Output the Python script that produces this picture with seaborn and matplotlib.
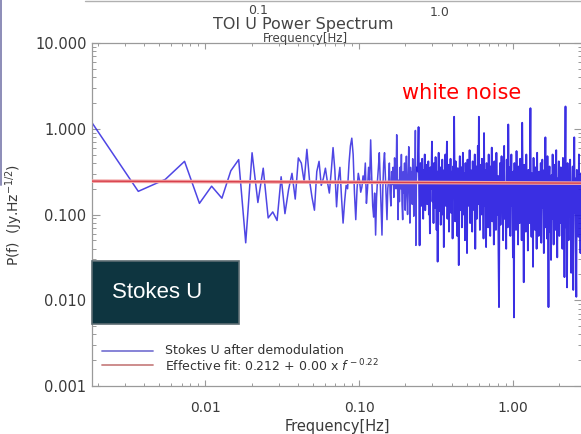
import numpy as np
import pandas as pd
import matplotlib
matplotlib.use("Agg")
import matplotlib.pyplot as plt
from matplotlib.lines import Line2D
from matplotlib.patches import Rectangle
import matplotlib.ticker as mticker
import seaborn as sns

# ---------------- data ----------------
# Low-frequency part: evenly spaced FFT bins, values as 100*log10(P)
freq_step_hz = 0.00183
u_lo_log100 = [
    7, -73, -59, -38, -87, -67, -81, -49, -36, -133,
    -28, -86, -46, -104, -97, -107, -56, -99, -71, -52,
    -82, -34, -40, -62, -24, -60, -80, -95, -50, -38,
    -66, -58, -46, -62, -75, -50, -22, -48, -91, -60,
    -45, -80, -110, -85, -66, -70, -40, -20, -11, -30,
    -75, -106, -70, -52, -60, -74, -68, -55, -62, -40,
    -87, -70, -45, -60, -13, -55, -90, -103, -75, -124,
    -80, -60, -45, -28, -60, -95, -124, -70, -40, -28,
    -55, -85, -106, -70, -60, -40, -75, -90, -50, -65,
    -45, -80, -34, -55, -70, -7, -50, -106, -60, -85,
    -45, -70, -30, -88, -106, -50, -75, -40, -95, -60,
    -32, -78, -100, -55, -21, -65, -110, -45, -72, -50,
    -88, -35, -62, -102, -48, -70, -2, -136, -60, -45,
]
# High-frequency part (dense "white noise" region), values as 100*log10(P)
hi_f_start, hi_f_end = 0.2400, 2.82
u_hi_log100 = [
    -50, -30, 2, -70, -136, -55, -40, -90, -60, -35, -80, -105, -48, -62, -30, -95, -58, -72, -42, -88,
    -55, -38, -100, -66, -122, -45, -70, -52, -15, -85, -60, -110, -40, -75, -92, -33, -68, -118, -50, -155,
    -62, -28, -96, -70, -45, -112, -58, -82, -36, -100, -64, -138, -48, -74, -30, -90, -56, -15, -105, -66,
    -42, -120, -60, -85, -35, -98, -70, -50, -128, -44, -78, 14, -62, -108, -38, -88, -55, -125, -46, -72,
    -159, -58, -32, -95, -68, -45, -115, -60, -28, -100, -75, -52, -130, -40, -82, -62, -145, -36, -90, -55,
    -70, -25, -110, -48, -85, -64, -120, -38, -78, -58, -95, -30, -140, -66, -44, -105, -60, -20, -88, 14,
    -72, -118, -42, -65, -100, -35, -80, -56, -128, -5, -90, -48, -70, -138, -40, -82, -60, -115, -30, -96,
    -52, -125, -44, -75, -22, -108, -66, -50, -135, -38, -90, -62, -118, -28, -80, -100, -55, -145, -208, -70,
    -40, -112, -60, -32, -95, -75, -130, -48, -20, -105, -66, -85, -140, -36, -70, -115, 5, -58, -100, -45,
    -125, -62, -30, -90, -72, -150, -50, -220, -40, -98, -68, -118, -26, -85, -60, -135, -44, -78, -110, -35,
    -92, -64, -130, 7, -55, -100, -179, -42, -80, -66, -120, -30, -96, -58, -142, -48, -75, -110, -38, 24,
    -88, -126, -52, -70, -161, -34, -95, -62, -118, -45, -82, -140, -28, -100, -68, -125, -50, -76, -112, -40,
    -133, -60, -36, -92, -70, -145, -48, -85, -10, -115, -58, -128, -32, -98, -208, -66, -44, -120, -80, -153,
    -54, -105, -30, -88, -135, -62, -42, -118, -76, -25, -100, -150, -58, -84, -38, -125, -68, -110, -45, -92,
    -60, -140, -34, -96, -72, -173, -50, 26, -115, -64, -185, -40, -88, -130, -56, -102, -36, -80, -168, -62,
    -120, -44, -188, -74, -10, -98, -58, -140, -196, -48, -85, -66, -126, -30, -104, -70, -145, -52, -90, -60,
]
# Effective fit line (end points)
fit_freq = [0.00183, 2.82]
fit_level = [0.245, 0.232]

x_ticks = [0.01, 0.1, 1.0]
x_tick_labels = ["0.01", "0.10", "1.00"]
y_ticks = [0.001, 0.01, 0.1, 1.0, 10.0]
y_tick_labels = ["0.001", "0.010", "0.100", "1.000", "10.000"]
top_tick_labels = ["0.1", "1.0"]

legend_labels = ["Stokes U after demodulation",
                 r"Effective fit: 0.212 + 0.00 x $\mathit{f}^{\,-0.22}$"]

# ---------------- build frames ----------------
lo_f = freq_step_hz * np.arange(1, len(u_lo_log100) + 1)
hi_f = np.geomspace(hi_f_start, hi_f_end, len(u_hi_log100))
lo = pd.DataFrame({"f": lo_f, "P": 10 ** (np.array(u_lo_log100, dtype=float) / 100.0)})
hi = pd.DataFrame({"f": hi_f, "P": 10 ** (np.array(u_hi_log100, dtype=float) / 100.0)})
# join the two parts so the trace is continuous
hi = pd.concat([lo.tail(1), hi], ignore_index=True)
fit = pd.DataFrame({"f": fit_freq, "P": fit_level})

# ---------------- figure ----------------
sns.set_style("ticks")
plt.rcParams["font.family"] = ["DejaVu Sans"]
W, H = 581, 434
fig = plt.figure(figsize=(W / 100, H / 100), dpi=100)
fig.patch.set_facecolor("white")
ax = fig.add_axes([92 / W, 1 - 386 / H, (582 - 92) / W, (386 - 43) / H])

sns.lineplot(data=lo, x="f", y="P", ax=ax, color="#3026e0", lw=1.1, alpha=0.85,
             estimator=None, sort=False, zorder=2)
sns.lineplot(data=hi, x="f", y="P", ax=ax, color="#2418e0", lw=1.3, alpha=0.9,
             estimator=None, sort=False, zorder=2)
sns.lineplot(data=fit, x="f", y="P", ax=ax, color="#f2a6a6", lw=2.6,
             estimator=None, sort=False, zorder=3)
sns.lineplot(data=fit, x="f", y="P", ax=ax, color="#d8404c", lw=1.0,
             estimator=None, sort=False, zorder=4)

ax.set_xscale("log")
ax.set_yscale("log")
ax.set_xlim(0.00183, 2.82)
ax.set_ylim(0.001, 10.0)

ax.set_xticks(x_ticks)
ax.set_xticklabels(x_tick_labels)
ax.set_yticks(y_ticks)
ax.set_yticklabels(y_tick_labels)
ax.xaxis.set_minor_locator(mticker.LogLocator(base=10, subs=np.arange(2, 10)))
ax.yaxis.set_minor_locator(mticker.LogLocator(base=10, subs=np.arange(2, 10)))
ax.xaxis.set_minor_formatter(mticker.NullFormatter())
ax.yaxis.set_minor_formatter(mticker.NullFormatter())

TK = "#9a9a9a"
ax.tick_params(axis="x", which="major", direction="in", length=4, width=0.8,
               color=TK, top=True, bottom=True, pad=11, labelsize=10, labelcolor="#3a3a3a")
ax.tick_params(axis="x", which="minor", direction="in", length=2.2, width=0.7,
               color=TK, top=True, bottom=True)
ax.tick_params(axis="y", which="major", direction="in", length=6, width=0.8,
               color=TK, left=True, right=True, pad=4, labelsize=10.5, labelcolor="#3a3a3a")
ax.tick_params(axis="y", which="minor", direction="in", length=3.2, width=0.7,
               color=TK, left=True, right=True)
for s in ax.spines.values():
    s.set_color(TK)
    s.set_linewidth(0.9)

ax.set_xlabel("Frequency[Hz]", fontsize=10.5, color="#3a3a3a")
ax.xaxis.set_label_coords(0.5, -(419 - 386) / 343)
ax.set_ylabel(r"P(f)  (Jy.Hz$^{-1/2}$)", fontsize=10, color="#3a3a3a")
ax.yaxis.set_label_coords(-(92 - 25) / 490, 0.5)

# ---------------- header texts ----------------
fig.text(303 / W, 1 - 24 / H, "TOI U Power Spectrum", ha="center", va="center",
         fontsize=11.5, color="#444444")
fig.text(258 / W, 1 - 10 / H, top_tick_labels[0], ha="center", va="center",
         fontsize=9, color="#444444")
fig.text(440 / W, 1 - 13 / H, top_tick_labels[1], ha="center", va="center",
         fontsize=9, color="#444444")
fig.text(305 / W, 1 - 38.5 / H, "Frequency[Hz]", ha="center", va="center",
         fontsize=8.5, color="#444444")
fig.add_artist(Line2D([85 / W, 1.0], [1 - 0.6 / H] * 2, transform=fig.transFigure,
                      color="#b0b0b0", lw=1.0))
fig.add_artist(Line2D([0.7 / W, 0.7 / W], [1.0, 1 - 185 / H], transform=fig.transFigure,
                      color="#8c8cb8", lw=1.4))

# ---------------- annotations ----------------
fig.text(402 / W, 1 - 93 / H, "white noise", ha="left", va="center",
         fontsize=15, color="#ff0000")
fig.add_artist(Rectangle((92 / W, 1 - 324 / H), (239 - 92) / W, (324 - 261) / H,
                         transform=fig.transFigure, facecolor="#0e3540",
                         edgecolor="#5c6c72", lw=1.2, zorder=5))
fig.text(112 / W, 1 - 293 / H, "Stokes U", ha="left", va="center",
         fontsize=16, color="white", family=["Liberation Sans", "DejaVu Sans"], zorder=6)

# ---------------- legend ----------------
fig.add_artist(Line2D([102 / W, 153 / W], [1 - 351 / H] * 2, transform=fig.transFigure,
                      color="#7d79d4", lw=1.3))
fig.add_artist(Line2D([102 / W, 153 / W], [1 - 365 / H] * 2, transform=fig.transFigure,
                      color="#c98484", lw=1.3))
fig.text(165 / W, 1 - 350 / H, legend_labels[0], ha="left", va="center",
         fontsize=9, color="#333333")
fig.text(165 / W, 1 - 366 / H, legend_labels[1], ha="left", va="center",
         fontsize=9, color="#333333")

fig.savefig("out.png", dpi=100)
